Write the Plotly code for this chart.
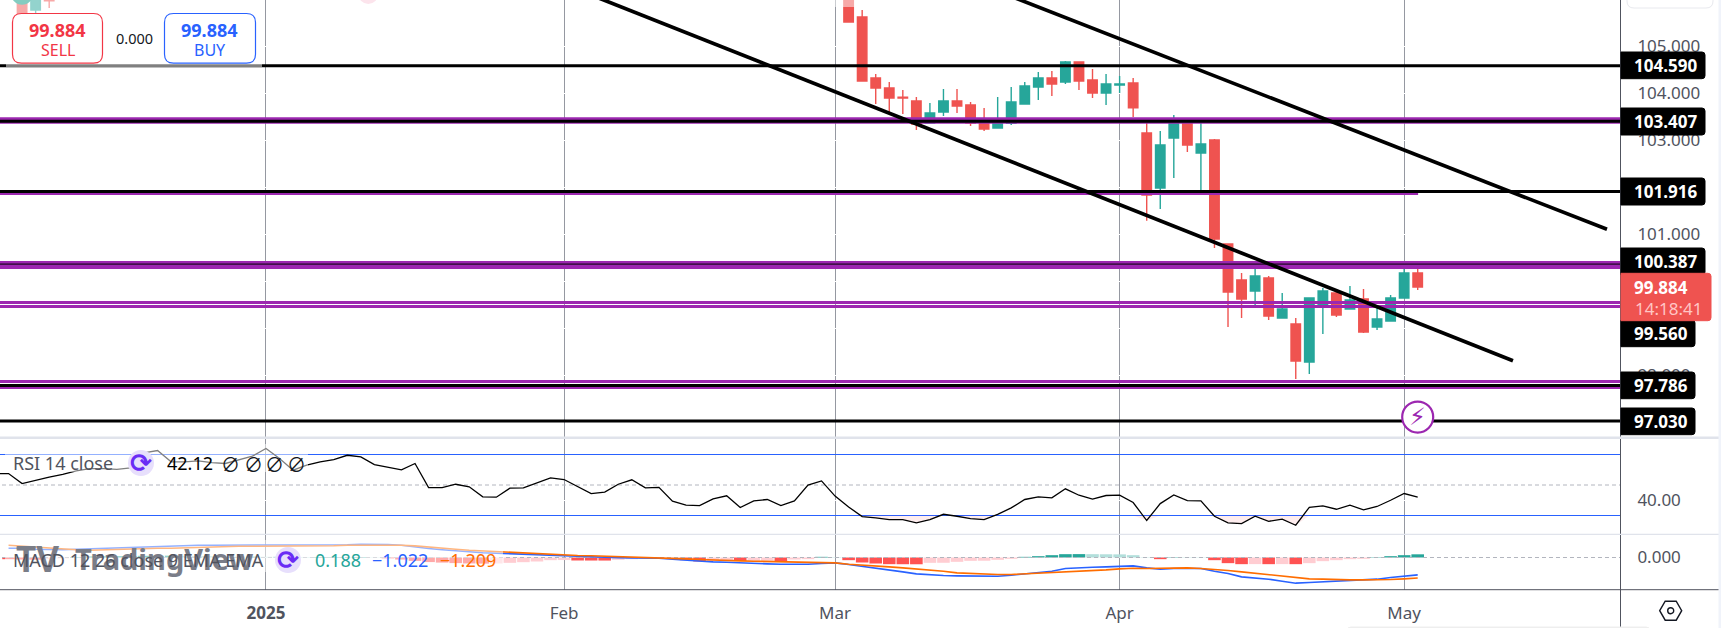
import plotly.graph_objects as go

W, H = 1721, 628
FONT = "Noto Sans"

# ---------- data ----------
candle_index = [-18, -17, -16] + list(range(43, 86))
candle_open = [106.20, 105.776, 105.98,
    106.30, 105.627, 104.329, 104.117, 103.919, 103.840, 103.372, 103.606, 103.840, 103.755, 103.436, 103.265, 103.366,
    103.776, 104.138, 104.329, 104.244, 104.670, 104.287, 104.010, 104.180, 104.223, 103.159, 101.989, 103.053, 103.372,
    102.734, 103.010, 100.797, 100.032, 99.797, 100.074, 99.223, 99.095, 98.287, 99.500, 99.755, 99.414, 99.627, 99.031,
    99.159, 99.649, 100.180]
candle_high = [106.30, 106.20, 105.99,
    106.40, 105.776, 104.415, 104.244, 104.074, 103.925, 103.797, 104.095, 104.095, 103.819, 103.691, 103.925, 104.138,
    104.244, 104.457, 104.478, 104.691, 104.670, 104.521, 104.415, 104.372, 104.329, 103.372, 103.202, 103.542, 103.436,
    103.436, 103.032, 100.797, 100.180, 100.265, 100.117, 99.755, 99.223, 99.649, 99.861, 99.840, 99.904, 99.840, 99.457,
    99.712, 100.265, 100.265]
candle_low = [105.712, 105.712, 105.819,
    105.520, 104.266, 103.776, 103.585, 103.563, 103.223, 103.372, 103.521, 103.585, 103.308, 103.202, 103.265, 103.329,
    103.776, 103.861, 103.946, 104.202, 104.074, 103.904, 103.755, 104.010, 103.500, 101.293, 101.542, 102.202, 102.755,
    101.946, 100.712, 99.031, 99.223, 99.500, 99.180, 99.223, 97.925, 98.031, 98.883, 99.244, 99.414, 98.904, 98.968,
    99.159, 99.649, 99.819]
candle_close = [105.712, 106.10, 105.97,
    105.521, 104.266, 104.117, 103.904, 103.904, 103.351, 103.585, 103.840, 103.734, 103.372, 103.244, 103.436, 103.819,
    104.159, 104.329, 104.202, 104.670, 104.266, 104.010, 104.202, 104.202, 103.697, 101.840, 102.904, 103.372, 102.904,
    102.925, 100.904, 99.776, 99.627, 100.117, 99.266, 99.414, 98.308, 99.649, 99.797, 99.287, 99.606, 98.925, 99.202,
    99.649, 100.180, 99.884]

black_levels = [104.590, 103.407, 101.916, 97.786, 97.030]
thin_black_level = 100.370
purple_levels = [103.425, 100.351]
purple_double = [99.553, 99.468, 97.872, 97.733]
purple_short = 101.870
tag_labels = ["104.590", "103.407", "101.916", "100.387", "99.560", "97.786", "97.030"]

trend_x = [[17.3, 92.03], [46.8, 98.97]]
trend_y = [[106.861, 98.314], [106.989, 101.110]]

price_ticks = [98, 99, 100, 101, 102, 103, 104, 105]
price_tick_labels = ["98.000", "", "", "101.000", "", "103.000", "104.000", "105.000"]
month_ticks = [0, 22, 42, 63, 84]
month_labels = ["<b>2025</b>", "Feb", "Mar", "Apr", "May"]

rsi_index = list(range(-20, 86))
rsi = [57.5, 57.5, 50.9, 53.1, 55.1, 56.9, 59.3, 60.8, 60.8, 60.3, 61.2, 71.1, 72.6, 65.2, 65.2, 65.8, 64.7, 64.1, 66.3, 68.9,
    73.9, 67.35, 59.7, 63.0, 65.2, 66.7, 69.5, 68.4, 63.4, 61.7, 59.9, 64.1, 48.3, 48.3, 50.5, 48.8, 42.2, 42.0, 47.9, 48.1,
    51.4, 54.7, 53.6, 48.8, 44.4, 45.3, 50.5, 53.4, 48.1, 48.5, 39.4, 36.8, 36.5, 40.9, 42.9, 35.2, 39.6, 40.5, 36.5, 39.6,
    49.9, 52.7, 42.7, 35.6, 29.3, 28.4, 27.3, 27.3, 25.2, 27.3, 30.8, 29.5, 28.0, 27.3, 30.8, 35.0, 40.5, 42.2, 41.6, 47.5,
    43.3, 40.7, 43.1, 43.3, 38.5, 26.7, 37.8, 43.5, 39.8, 39.6, 29.5, 25.2, 24.7, 29.5, 26.2, 27.6, 23.6, 35.4, 36.3, 34.1,
    36.8, 33.7, 35.9, 40.0, 44.4, 42.12]

macd_index = list(range(-19, 86))
macd_signal = [.724, .665, .606, .547, .488, .459, .429, .459, .488, .488, .518, .547, .547, .576, .606, .606, .635, .665, .665,
    .665, .665, .665, .694, .694, .694, .724, .724, .741, .741, .724, .682, .606, .547, .488, .429, .388, .353, .312, .265,
    .224, .182, .135, .118, .100, .076, .053, .029, .006, 0, -.041, -.082, -.118, -.159, -.176, -.200, -.218, -.235, -.259,
    -.276, -.294, -.318, -.318, -.394, -.435, -.494, -.553, -.612, -.671, -.729, -.806, -.906, -.941, -.965, -1.0, -1.0,
    -.965, -.924, -.906, -.847, -.806, -.765, -.729, -.671, -.629, -.647, -.629, -.612, -.612, -.647, -.687, -.766, -.844,
    -.922, -1.001, -1.099, -1.177, -1.256, -1.275, -1.315, -1.315, -1.315, -1.315, -1.295, -1.256, -1.209]
macd_line = [.547, .547, .488, .459, .459, .488, .518, .547, .576, .606, .635, .665, .694, .694, .724, .724, .724, .724, .724,
    .724, .724, .724, .724, .724, .735, .753, .782, .782, .765, .724, .618, .529, .459, .388, .329, .282, .253, .224, .194,
    .147, .118, .076, .059, .047, .018, -.012, -.024, -.029, -.041, -.100, -.159, -.218, -.259, -.276, -.318, -.353, -.376,
    -.394, -.412, -.394, -.353, -.318, -.412, -.512, -.629, -.747, -.847, -.965, -1.024, -1.059, -1.082, -1.082, -1.1, -1.1,
    -1.041, -.965, -.865, -.806, -.647, -.588, -.571, -.553, -.512, -.494, -.612, -.688, -.647, -.629, -.648, -.805, -.942,
    -1.138, -1.197, -1.275, -1.393, -1.510, -1.471, -1.432, -1.393, -1.373, -1.334, -1.275, -1.177, -1.079, -1.022]
macd_hist = [-.10, -.12, -.13, -.08, -.05, .03, .06, .07, .08, .09, .10, .10, .11, .10, .09, .08, .07, .05, .05,
    .04, .04, .04, .03, .03, .03, .02, .03, .02, -.05, -.12, -.20, -.27, -.30, -.33, -.35, -.36, -.353, -.314, -.275,
    -.235, -.157, -.150, -.176, -.178, -.180, -.137, -.098, -.059, -.058, -.057, -.157, -.235, -.196, -.157, -.196, -.190, -.185,
    -.216, -.118, -.098, .039, .020, -.157, -.294, -.353, -.392, -.395, -.398, -.314, -.310, -.255, -.196, -.190, -.137, -.078,
    .039, .078, .137, .196, .200, .196, .190, .185, .137, .020, -.098, .020, .018, .016, -.157, -.333, -.392, -.388,
    -.392, -.388, -.392, -.333, -.216, -.157, -.098, -.078, .020, .078, .137, .188]

# ---------- pixel helpers for chrome ----------
def px(x): return x / W
def py(y): return 1 - y / H

def round_rect(x0, y0, x1, y1, r, left=True):
    X0, X1 = px(x0), px(x1)
    Y0, Y1 = py(y0), py(y1)
    rx, ry = r / W, r / H
    if left:
        return (f"M{X0+rx},{Y0} L{X1-rx},{Y0} Q{X1},{Y0} {X1},{Y0-ry} L{X1},{Y1+ry} Q{X1},{Y1} {X1-rx},{Y1} "
                f"L{X0+rx},{Y1} Q{X0},{Y1} {X0},{Y1+ry} L{X0},{Y0-ry} Q{X0},{Y0} {X0+rx},{Y0} Z")
    return (f"M{X0},{Y0} L{X1-rx},{Y0} Q{X1},{Y0} {X1},{Y0-ry} L{X1},{Y1+ry} Q{X1},{Y1} {X1-rx},{Y1} L{X0},{Y1} Z")

shapes, annotations = [], []

def panel(x0, y0, x1, y1, opacity=0.5):
    shapes.append(dict(type="rect", xref="paper", yref="paper", x0=px(x0), x1=px(x1), y0=py(y0), y1=py(y1),
                       fillcolor="white", opacity=opacity, line_width=0, layer="above"))

def hline(x0, x1, y, color, width):
    shapes.append(dict(type="line", xref="paper", yref="paper", x0=px(x0), x1=px(x1), y0=py(y), y1=py(y),
                       line=dict(color=color, width=width), layer="above"))

def vline(x, y0, y1, color, width):
    shapes.append(dict(type="line", xref="paper", yref="paper", x0=px(x), x1=px(x), y0=py(y0), y1=py(y1),
                       line=dict(color=color, width=width), layer="above"))

def rr(x0, y0, x1, y1, r, fill, line=None, lw=1, left=True):
    shapes.append(dict(type="path", xref="paper", yref="paper", path=round_rect(x0, y0, x1, y1, r, left),
                       fillcolor=fill, line=dict(color=line or fill, width=lw), layer="above"))

def text(x, y, s, size, color, anchor="left", bold=False, family=FONT):
    annotations.append(dict(xref="paper", yref="paper", x=px(x), y=py(y), text=f"<b>{s}</b>" if bold else s,
                            showarrow=False, xanchor=anchor, yanchor="middle",
                            font=dict(family=family, size=size, color=color), borderpad=0, borderwidth=0))

def icon(x, y):
    shapes.append(dict(type="circle", xref="paper", yref="paper", x0=px(x-13), x1=px(x+13), y0=py(y+13), y1=py(y-13),
                       fillcolor="#e7dffc", line_width=0, layer="above"))
    text(x, y, "⟳", 26, "#6a2cf5", "center", True, "DejaVu Sans")

# ---------- traces ----------
fig = go.Figure()
X_LO, X_HI = -20, 101

fig.add_trace(go.Scatter(x=[-18], y=[106.12], mode="markers", marker=dict(size=22, color="#089981"), xaxis="x", yaxis="y"))
fig.add_trace(go.Scatter(x=[7.55], y=[106.117], mode="markers", marker=dict(size=20, color="#fce4ec"), xaxis="x", yaxis="y"))
fig.add_trace(go.Candlestick(x=candle_index, open=candle_open, high=candle_high, low=candle_low, close=candle_close,
    increasing=dict(line=dict(color="#26a69a", width=1.4), fillcolor="#26a69a"),
    decreasing=dict(line=dict(color="#ef5350", width=1.4), fillcolor="#ef5350"),
    whiskerwidth=0, xaxis="x", yaxis="y"))

def level(y, color, width, x_end=X_HI):
    fig.add_trace(go.Scatter(x=[X_LO, x_end], y=[y, y], mode="lines", line=dict(color=color, width=width),
                             xaxis="x", yaxis="y"))

for v in purple_levels:
    level(v, "#9c27b0", 6.4 if v > 102 else 8)
for v in purple_double[:2]:
    level(v, "#9c27b0", 3)
level(purple_double[2], "#9c27b0", 3)
level(purple_double[3], "#9c27b0", 2)
level(purple_short, "#9c27b0", 3, 85.03)
for v in black_levels:
    level(v, "#000000", 3)
level(thin_black_level, "#000000", 1)
for tx, ty in zip(trend_x, trend_y):
    fig.add_trace(go.Scatter(x=tx, y=ty, mode="lines", line=dict(color="#000000", width=3.7), xaxis="x", yaxis="y"))

fig.add_trace(go.Scatter(x=[85], y=[97.116], mode="markers", xaxis="x", yaxis="y",
    marker=dict(size=31, color="white", line=dict(color="#9c27b0", width=2.2))))
annotations.append(dict(xref="x", yref="y", x=85, y=97.116, text="<b>⚡</b>", showarrow=False,
                        font=dict(family="DejaVu Sans", size=24, color="#9c27b0")))

# RSI pane
for v, c, d in [(70, "#2962ff", "solid"), (50, "#b2b5be", "4px,3px"), (30, "#2962ff", "solid")]:
    fig.add_trace(go.Scatter(x=[X_LO, X_HI], y=[v, v], mode="lines", line=dict(color=c, width=1, dash=d),
                             xaxis="x2", yaxis="y2"))
fig.add_trace(go.Scatter(x=rsi_index, y=[30] * len(rsi), mode="lines", line=dict(width=0), xaxis="x2", yaxis="y2"))
fig.add_trace(go.Scatter(x=rsi_index, y=[min(v, 30) for v in rsi], mode="lines", line=dict(width=0),
                         fill="tonexty", fillcolor="rgba(242,54,69,0.09)", xaxis="x2", yaxis="y2"))
fig.add_trace(go.Scatter(x=rsi_index, y=rsi, mode="lines", line=dict(color="#000000", width=1.3), xaxis="x2", yaxis="y2"))

# MACD pane
fig.add_trace(go.Scatter(x=[X_LO, X_HI], y=[0, 0], mode="lines", line=dict(color="#b2b5be", width=1, dash="4px,3px"),
                         xaxis="x3", yaxis="y3"))
hist_colors = []
for i, v in enumerate(macd_hist):
    prev = macd_hist[i - 1] if i else v
    if v >= 0:
        hist_colors.append("#26a69a" if v >= prev else "#b2dfdb")
    else:
        hist_colors.append("#ffcdd2" if v > prev else "#ff5252")
fig.add_trace(go.Bar(x=macd_index, y=macd_hist, marker=dict(color=hist_colors, line_width=0), width=0.93,
                     xaxis="x3", yaxis="y3"))
fig.add_trace(go.Scatter(x=macd_index, y=macd_line, mode="lines", line=dict(color="#2962ff", width=1.6),
                         xaxis="x3", yaxis="y3"))
fig.add_trace(go.Scatter(x=macd_index, y=macd_signal, mode="lines", line=dict(color="#ff6d00", width=1.6),
                         xaxis="x3", yaxis="y3"))

# ---------- chrome ----------
panel(6, -2, 262, 67)
panel(830, -2, 858, 7)
panel(5, 444, 308, 472)
panel(5, 540, 503, 572)

vline(1620.5, 0, H, "#50535e", 1)
hline(0, 1719, 437.8, "#e0e3eb", 2.4)
hline(0, 1719, 534.4, "#e0e3eb", 1.4)
hline(0, 1719, 589.7, "#50535e", 1)
shapes.append(dict(type="rect", xref="paper", yref="paper", x0=px(1718.5), x1=1, y0=0, y1=1,
                   fillcolor="#f0f3fa", line_width=0, layer="above"))
rr(1627, -12, 1713, 8, 7, "white", "#e8e9ee", 1)
rr(1347, 627, 1650, 640, 4, "#eeeeee")

# order tickets
rr(12.5, 13.5, 102.5, 63.2, 9, "white", "#f23645", 1.2)
rr(164.5, 13.5, 255.5, 63.2, 9, "white", "#2962ff", 1.2)
text(57.5, 30, "99.884", 18, "#f23645", "center", True)
text(57.5, 50, "SELL", 16, "#f23645", "center")
text(209.5, 30, "99.884", 18, "#2962ff", "center", True)
text(209.5, 50, "BUY", 16, "#2962ff", "center")
text(134, 38, "0.000", 14.5, "#131722", "center")

# price tags
tag_boxes = [(52, 78.7, 1705), (108, 135, 1705), (178, 205, 1705), (248, 275, 1705),
             (320, 346.7, 1695), (372, 398.7, 1695), (408, 434.7, 1695)]
for (y0, y1, x1), lab in zip(tag_boxes, tag_labels):
    rr(1621, y0, x1, y1, 3, "#000000", left=False)
    text(1634, (y0 + y1) / 2, lab, 17, "#ffffff", "left", True)
rr(1621, 273.3, 1711, 320.7, 3, "#ef5350", left=False)
text(1633.5, 287, "99.884", 17, "#ffffff", "left", True)
text(1634.5, 308, "14:18:41", 17, "#ffc6c5")

# legends + watermark
text(16, 558, "TV", 35, "#7a7d88", "left", True)
text(75, 558, "TradingView", 29, "#7a7d88", "left", True)
text(13, 463, "RSI 14 close", 18, "#50535e")
icon(141, 463)
text(167, 463, "42.12", 18, "#000000")
for xp in (230, 253, 274, 296):
    text(xp, 463, "∅", 19, "#131722", "center", False, "Noto Sans CJK JP")
text(13, 560, "MACD 12 26 close 9 EMA EMA", 18, "#50535e")
icon(288, 560)
text(315, 560, "0.188", 18, "#26a69a")
text(372, 560, "−1.022", 18, "#2962ff")
text(440, 560, "−1.209", 18, "#ff6d00")

# hexagon settings icon
hx, hy = 1670.7, 610.7
hex_pts = [(-11, 0), (-5.5, -9.5), (5.5, -9.5), (11, 0), (5.5, 9.5), (-5.5, 9.5)]
hex_path = "M" + " L".join(f"{px(hx+a)},{py(hy+b)}" for a, b in hex_pts) + " Z"
shapes.append(dict(type="path", xref="paper", yref="paper", path=hex_path, line=dict(color="#131722", width=1.4), layer="above"))
shapes.append(dict(type="circle", xref="paper", yref="paper", x0=px(hx-3), x1=px(hx+3), y0=py(hy+3), y1=py(hy-3),
                   line=dict(color="#131722", width=1.4), layer="above"))

# ---------- layout ----------
PANE_X = [0, 1620 / W]
tickfont = dict(family=FONT, size=17, color="#50535e")
GRID_V = "#9598a1"

def xaxis(anchor, show):
    return dict(domain=PANE_X, range=[-19.63, 99.93], anchor=anchor, tickmode="array", tickvals=month_ticks,
                ticktext=month_labels, showticklabels=show, showgrid=True, gridcolor=GRID_V, gridwidth=1,
                zeroline=False, showline=False, ticks="outside" if show else "", ticklen=8,
                tickcolor="rgba(0,0,0,0)", tickfont=tickfont, rangeslider=dict(visible=False), fixedrange=True)

def yaxis(dom, rng, vals, labels, anchor):
    return dict(domain=dom, range=rng, anchor=anchor, side="right", tickmode="array", tickvals=vals, ticktext=labels,
                showgrid=True, gridcolor="#ffffff", gridwidth=1, zeroline=False, showline=False, ticks="outside",
                ticklen=13, tickcolor="rgba(0,0,0,0)", tickfont=tickfont, fixedrange=True)

fig.update_layout(
    width=W, height=H, autosize=False, margin=dict(l=0, r=0, t=0, b=0), showlegend=False,
    paper_bgcolor="white", plot_bgcolor="white", boxmode="overlay", boxgap=0.3, boxgroupgap=0, barmode="overlay", hovermode=False,
    xaxis=xaxis("y", False), xaxis2=xaxis("y2", False), xaxis3=xaxis("y3", True),
    yaxis=yaxis([1 - 437 / H, 1], [96.691, 105.989], price_ticks, price_tick_labels, "x"),
    yaxis2=yaxis([1 - 534 / H, 1 - 439 / H], [17.87, 80.16], [40], ["40.00"], "x2"),
    yaxis3=yaxis([1 - 590 / H, 1 - 535 / H], [-1.912, 1.324], [0], ["0.000"], "x3"),
    shapes=shapes, annotations=annotations,
)

fig.write_html("out.html", config=dict(displayModeBar=False, staticPlot=True),
               post_script="document.body.style.margin='0';document.body.style.overflow='hidden';")
